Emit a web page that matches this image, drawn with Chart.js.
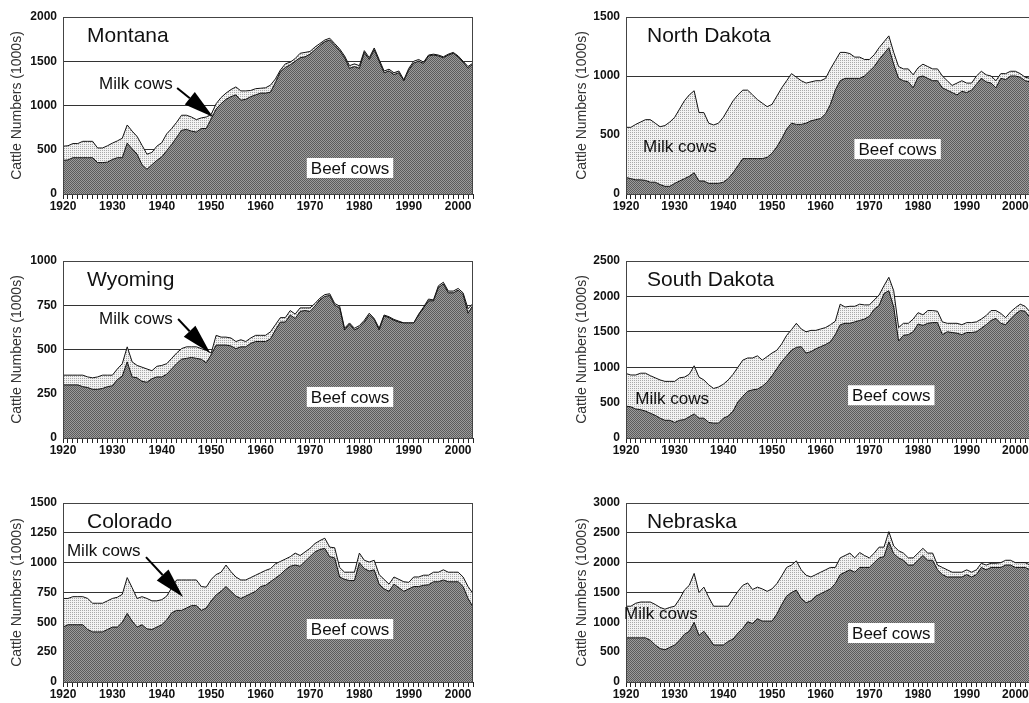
<!DOCTYPE html>
<html>
<head>
<meta charset="utf-8">
<title>Cattle numbers by state</title>
<script src="https://cdn.jsdelivr.net/npm/chart.js@4.4.1/dist/chart.umd.min.js"></script>
<style>
  html, body { margin: 0; padding: 0; background: #fff; width: 1029px; height: 703px; overflow: hidden; }
  .panel { position: absolute; }
</style>
</head>
<body>
<div class="panel" style="left:0;top:0"><canvas id="c_mt" width="490" height="215"></canvas></div>
<div class="panel" style="left:520px;top:0"><canvas id="c_nd" width="520" height="215"></canvas></div>
<div class="panel" style="left:0;top:244px"><canvas id="c_wy" width="490" height="215"></canvas></div>
<div class="panel" style="left:520px;top:244px"><canvas id="c_sd" width="520" height="215"></canvas></div>
<div class="panel" style="left:0;top:486px"><canvas id="c_co" width="490" height="217"></canvas></div>
<div class="panel" style="left:520px;top:486px"><canvas id="c_ne" width="520" height="217"></canvas></div>
<script>
// years on the x axis
const years = [];
for (let y = 1920; y <= 2003; y++) years.push(y);

// Montana (beef cows, and beef + milk cows = top line)
const mtBeef = [380, 385, 410, 410, 410, 410, 410, 355, 355, 360,
  390, 410, 410, 575, 510, 450, 330, 280, 330, 380,
  420, 490, 560, 640, 720, 730, 710, 700, 740, 740,
  850, 960, 1020, 1070, 1100, 1120, 1060, 1070, 1100, 1120,
  1140, 1140, 1150, 1260, 1380, 1430, 1460, 1500, 1540, 1550,
  1580, 1630, 1680, 1720, 1740, 1680, 1620, 1540, 1420, 1440,
  1420, 1600, 1520, 1630, 1500, 1370, 1390, 1350, 1370, 1280,
  1400, 1480, 1500, 1475, 1560, 1570, 1560, 1540, 1570, 1590,
  1550, 1490, 1420, 1470];
const mtAll = [540, 545, 570, 570, 595, 595, 595, 520, 520, 545,
  575, 600, 630, 780, 710, 650, 550, 450, 470, 540,
  580, 680, 740, 810, 890, 890, 870, 840, 860, 870,
  900, 1020, 1090, 1140, 1180, 1210, 1165, 1165, 1170, 1190,
  1195, 1200, 1230, 1300, 1400, 1470, 1490, 1530, 1590, 1600,
  1610, 1660, 1700, 1740, 1760, 1700, 1640, 1560, 1450, 1470,
  1450, 1620, 1540, 1650, 1520, 1390, 1410, 1370, 1390, 1290,
  1420, 1500, 1520, 1490, 1570, 1580, 1570, 1550, 1580, 1600,
  1560, 1500, 1440, 1480];

// Wyoming
const wyBeef = [300, 300, 300, 300, 290, 285, 275, 275, 280, 290,
  295, 330, 350, 430, 345, 340, 320, 315, 335, 345,
  345, 360, 390, 420, 445, 450, 455, 450, 445, 425,
  470, 525, 525, 525, 520, 505, 515, 515, 535, 545,
  545, 545, 560, 610, 655, 655, 695, 675, 715, 720,
  715, 745, 780, 800, 805, 750, 735, 610, 645, 610,
  625, 655, 695, 670, 610, 690, 680, 665, 655, 650,
  650, 650, 695, 735, 775, 775, 850, 870, 820, 820,
  835, 810, 705, 750];
const wyAll = [355, 355, 355, 355, 355, 345, 340, 345, 355, 355,
  355, 390, 420, 515, 430, 410, 400, 390, 380, 405,
  410, 420, 450, 480, 505, 515, 515, 515, 505, 495,
  480, 580, 570, 570, 565, 545, 555, 545, 565, 580,
  580, 580, 600, 640, 680, 680, 720, 700, 735, 735,
  735, 760, 790, 810, 815, 760, 745, 620, 650, 620,
  635, 665, 705, 675, 620, 695, 685, 670, 660, 650,
  650, 650, 700, 740, 785, 780, 860, 880, 830, 830,
  845, 820, 730, 760];

// Colorado
const coBeef = [460, 480, 480, 480, 480, 440, 420, 420, 420, 440,
  460, 460, 500, 575, 510, 460, 480, 445, 440, 460,
  480, 520, 580, 600, 600, 620, 640, 640, 600, 620,
  680, 730, 760, 800, 760, 720, 700, 720, 740, 760,
  800, 810, 840, 870, 900, 940, 970, 980, 970, 1010,
  1050, 1090, 1110, 1120, 1050, 1040, 880, 860, 850, 850,
  1000, 950, 930, 940, 820, 780, 760, 820, 790, 760,
  780, 800, 800, 810, 815, 840, 840, 855, 840, 840,
  840, 800, 700, 630];
const coAll = [700, 700, 715, 715, 715, 700, 660, 660, 660, 680,
  700, 710, 735, 875, 790, 700, 715, 700, 680, 680,
  690, 720, 790, 855, 855, 855, 855, 855, 800, 795,
  860, 900, 920, 980, 925, 880, 855, 855, 875, 895,
  915, 935, 950, 990, 1010, 1030, 1050, 1080, 1060, 1090,
  1120, 1160, 1185, 1205, 1130, 1125, 960, 920, 920, 920,
  1080, 1020, 1005, 1020, 900, 860, 820, 880, 860, 840,
  835, 880, 880, 895, 895, 920, 920, 940, 920, 920,
  920, 880, 800, 740];

// North Dakota
const ndBeef = [140, 130, 120, 120, 115, 100, 100, 80, 65, 65,
  90, 110, 130, 150, 180, 110, 110, 90, 90, 90,
  100, 130, 180, 240, 300, 300, 300, 300, 300, 310,
  345, 400, 470, 550, 600, 590, 590, 600, 620, 630,
  640, 680, 760, 880, 960, 980, 980, 980, 980, 1000,
  1040, 1080, 1140, 1190, 1240, 1100, 980, 960, 950, 900,
  990, 1000, 980, 960, 960, 900, 880, 860, 840, 870,
  860, 880, 930, 980, 950, 940, 900, 980, 970, 1000,
  1000, 990, 960, 950];
const ndAll = [565, 565, 590, 610, 630, 630, 600, 570, 580, 610,
  650, 720, 790, 840, 875, 690, 690, 600, 585, 600,
  650, 720, 790, 840, 880, 880, 840, 800, 770, 740,
  760, 830, 900, 960, 1020, 990, 960, 940, 950, 960,
  960, 980, 1060, 1130, 1200, 1200, 1190, 1160, 1160, 1140,
  1140, 1180, 1240, 1290, 1340, 1200, 1080, 1060, 1060, 1010,
  1070, 1100, 1080, 1060, 1060, 1000, 960, 920, 940, 960,
  940, 940, 1000, 1040, 1010, 1000, 960, 1020, 1020, 1040,
  1040, 1020, 990, 980];

// South Dakota
const sdBeef = [450, 440, 410, 400, 380, 350, 320, 280, 250, 250,
  220, 250, 260, 300, 340, 280, 280, 220, 210, 210,
  280, 310, 380, 510, 590, 660, 680, 690, 730, 790,
  880, 980, 1080, 1160, 1240, 1280, 1290, 1200, 1220, 1260,
  1290, 1320, 1360, 1460, 1600, 1620, 1620, 1640, 1660, 1680,
  1720, 1820, 1870, 2040, 2080, 1850, 1370, 1450, 1460, 1500,
  1610, 1590, 1620, 1630, 1630, 1460, 1500, 1490, 1480, 1460,
  1490, 1490, 1500, 1550, 1600, 1660, 1690, 1620, 1600, 1680,
  1750, 1800, 1790, 1700];
const sdAll = [910, 890, 890, 915, 915, 880, 850, 820, 800, 800,
  800, 850, 860, 900, 1020, 860, 820, 750, 700, 720,
  760, 820, 900, 1000, 1100, 1130, 1130, 1160, 1100, 1150,
  1200, 1240, 1330, 1450, 1530, 1620, 1540, 1500, 1520, 1520,
  1540, 1560, 1600, 1650, 1890, 1850, 1860, 1860, 1890, 1880,
  1880, 1950, 2020, 2150, 2270, 2080, 1560, 1620, 1620, 1680,
  1770, 1740, 1800, 1800, 1790, 1640, 1620, 1620, 1620, 1600,
  1630, 1630, 1640, 1680, 1730, 1800, 1800, 1760, 1700, 1780,
  1840, 1890, 1860, 1780];

// Nebraska
const neBeef = [740, 740, 740, 740, 740, 700, 620, 560, 540, 580,
  620, 700, 800, 850, 1000, 780, 850, 740, 620, 620,
  620, 680, 720, 820, 900, 1010, 980, 1060, 1020, 1020,
  1020, 1140, 1300, 1440, 1500, 1540, 1400, 1330, 1360, 1440,
  1480, 1520, 1560, 1650, 1800, 1840, 1880, 1840, 1920, 1920,
  1920, 2000, 2080, 2100, 2350, 2150, 2080, 2040, 1960, 1960,
  2040, 2120, 2040, 2040, 1880, 1800, 1760, 1760, 1760, 1760,
  1800, 1760, 1800, 1920, 1880, 1920, 1920, 1920, 1960, 1960,
  1920, 1920, 1920, 1880];
const neAll = [1270, 1270, 1320, 1340, 1340, 1340, 1300, 1250, 1220, 1250,
  1270, 1390, 1540, 1620, 1820, 1500, 1590, 1420, 1270, 1270,
  1270, 1270, 1400, 1520, 1620, 1660, 1550, 1590, 1560, 1520,
  1560, 1650, 1780, 1920, 1960, 2030, 1880, 1790, 1760, 1800,
  1840, 1880, 1920, 1920, 2080, 2120, 2160, 2080, 2170, 2120,
  2080, 2160, 2260, 2260, 2520, 2280, 2200, 2160, 2080, 2080,
  2160, 2240, 2160, 2160, 1960, 1920, 1880, 1840, 1840, 1840,
  1880, 1840, 1880, 1990, 1960, 1990, 1990, 2000, 2040, 2040,
  2000, 2000, 2000, 1960];

const FONT = 'Arial, "Liberation Sans", sans-serif';
Chart.defaults.font.family = FONT;

// texture fills like the printed figure
function makePattern(cells, size) {
  const c = document.createElement('canvas');
  c.width = size; c.height = size;
  const g = c.getContext('2d');
  cells.forEach((col, i) => {
    g.fillStyle = col;
    g.fillRect(i % size, Math.floor(i / size), 1, 1);
  });
  return g.createPattern(c, 'repeat');
}
const beefFill = makePattern(['#5c5c5c', '#9c9c9c', '#9c9c9c', '#5c5c5c'], 2);
const milkFill = makePattern(['#a8a8a8', '#f2f2f2', '#f2f2f2', '#f2f2f2'], 2);

// labels and arrows, placed in data units (year, 1000s)
const notes = {
  c_mt: { name: 'Montana', beef: [1978.1, 294], milk: [1927.3, 1243], arrow: [[1943.1, 1198], [1950.4, 870]] },
  c_wy: { name: 'Wyoming', beef: [1978.1, 232], milk: [1927.3, 672], arrow: [[1943.3, 672], [1949.8, 480]] },
  c_co: { name: 'Colorado', beef: [1978.1, 444], milk: [1920.8, 1098], arrow: [[1936.8, 1047], [1944.3, 712]] },
  c_nd: { name: 'North Dakota', beef: [1975.8, 381], milk: [1923.5, 398] },
  c_sd: { name: 'South Dakota', beef: [1974.5, 604], milk: [1921.9, 548] },
  c_ne: { name: 'Nebraska', beef: [1974.5, 821], milk: [1919.6, 1140] }
};

function drawArrow(ctx, x1, y1, x2, y2) {
  const ang = Math.atan2(y2 - y1, x2 - x1), len = 30, hw = 8;
  const bx = x2 - len * Math.cos(ang), by = y2 - len * Math.sin(ang);
  ctx.lineWidth = 2;
  ctx.beginPath(); ctx.moveTo(x1, y1); ctx.lineTo(bx, by); ctx.stroke();
  ctx.beginPath();
  ctx.moveTo(x2, y2);
  ctx.lineTo(bx + hw * Math.sin(ang), by - hw * Math.cos(ang));
  ctx.lineTo(bx - hw * Math.sin(ang), by + hw * Math.cos(ang));
  ctx.closePath(); ctx.fill();
}

const notesPlugin = {
  id: 'notes',
  afterDraw(chart) {
    const n = notes[chart.canvas.id];
    const ctx = chart.ctx, a = chart.chartArea, sx = chart.scales.x, sy = chart.scales.y;
    const onLeft = chart.canvas.width < 500;
    ctx.save();
    // plot frame
    ctx.strokeStyle = '#444'; ctx.lineWidth = 1;
    ctx.strokeRect(Math.round(a.left) + 0.5, Math.round(a.top) + 0.5, Math.round(a.right - a.left) - 1, Math.round(a.bottom - a.top));
    // state name
    ctx.fillStyle = '#111';
    ctx.font = '21px ' + FONT;
    ctx.textAlign = 'left'; ctx.textBaseline = 'alphabetic';
    ctx.fillText(n.name, a.left + (onLeft ? 24 : 21), a.top + 25);
    // "Beef cows" on a white box
    ctx.font = '17px ' + FONT;
    ctx.textAlign = 'center'; ctx.textBaseline = 'middle';
    const bx = sx.getPixelForValue(n.beef[0]), by = sy.getPixelForValue(n.beef[1]);
    const w = ctx.measureText('Beef cows').width + 8;
    ctx.fillStyle = '#fff';
    ctx.fillRect(bx - w / 2, by - 10, w, 20);
    ctx.fillStyle = '#111';
    ctx.fillText('Beef cows', bx, by + 1);
    // "Milk cows"
    ctx.textAlign = 'left';
    ctx.fillText('Milk cows', sx.getPixelForValue(n.milk[0]), sy.getPixelForValue(n.milk[1]));
    if (n.arrow) {
      ctx.strokeStyle = '#000'; ctx.fillStyle = '#000';
      const p = n.arrow.map(q => [sx.getPixelForValue(q[0]), sy.getPixelForValue(q[1])]);
      drawArrow(ctx, p[0][0], p[0][1], p[1][0], p[1][1]);
    }
    ctx.restore();
  }
};

function stateChart(id, beef, all, yMax, yStep) {
  const onLeft = document.getElementById(id).width < 500;
  const pts = arr => arr.map((v, i) => ({ x: years[i], y: v }));
  new Chart(document.getElementById(id), {
    type: 'line',
    data: {
      datasets: [
        { label: 'Beef cows', data: pts(beef), backgroundColor: beefFill, borderColor: '#111', borderWidth: 1, fill: 'origin' },
        { label: 'Milk cows', data: pts(all), backgroundColor: milkFill, borderColor: '#111', borderWidth: 1, fill: '-1' }
      ]
    },
    options: {
      responsive: false,
      animation: false,
      layout: { padding: { top: 17, right: onLeft ? 17 : 10, left: 0, bottom: 0 } },
      elements: { point: { radius: 0 }, line: { tension: 0 } },
      plugins: { legend: { display: false }, tooltip: { enabled: false } },
      scales: {
        x: {
          type: 'linear', min: 1920, max: 2003,
          afterBuildTicks: s => { s.ticks = years.map(v => ({ value: v })); },
          afterFit: s => { s.height = 21; },
          ticks: {
            autoSkip: false, maxRotation: 0, padding: 0, color: '#111',
            font: { size: 12, weight: 'bold' },
            callback: v => (v % 10 === 0 ? String(v) : '')
          },
          grid: { drawOnChartArea: false, tickLength: 5, color: '#222' },
          border: { color: '#222' }
        },
        y: {
          min: 0, max: yMax,
          afterFit: s => { s.width = onLeft ? 63 : 106; },
          ticks: { stepSize: yStep, padding: 6, color: '#111', font: { size: 12, weight: 'bold' }, callback: v => String(v) },
          grid: { color: '#333', drawTicks: false },
          border: { color: '#222' },
          title: { display: true, text: 'Cattle Numbers (1000s)', color: '#333', font: { size: 14 }, padding: { top: onLeft ? 9 : 54, bottom: 0 } }
        }
      }
    },
    plugins: [notesPlugin]
  });
}

stateChart('c_mt', mtBeef, mtAll, 2000, 500);
stateChart('c_nd', ndBeef, ndAll, 1500, 500);
stateChart('c_wy', wyBeef, wyAll, 1000, 250);
stateChart('c_sd', sdBeef, sdAll, 2500, 500);
stateChart('c_co', coBeef, coAll, 1500, 250);
stateChart('c_ne', neBeef, neAll, 3000, 500);
</script>
</body>
</html>
